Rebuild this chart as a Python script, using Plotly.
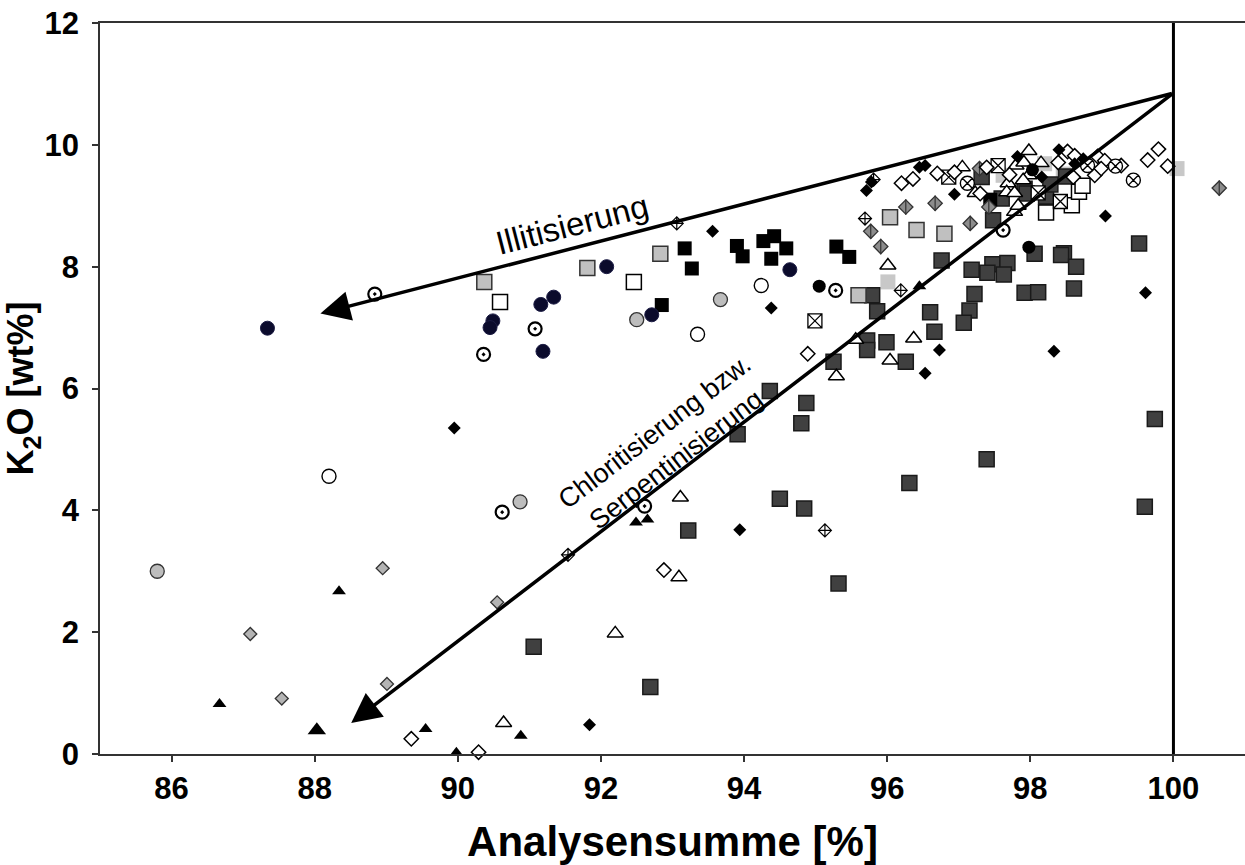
import plotly.graph_objects as go

# ---------------- data ----------------
navy_circle_x = [87.34, 91.34, 91.16, 90.49, 90.45, 91.19, 92.71, 92.08, 94.64]
navy_circle_y = [6.99, 7.50, 7.38, 7.11, 7.00, 6.61, 7.21, 8.00, 7.95]

black_circle_x = [95.05, 97.98, 98.03]
black_circle_y = [7.68, 8.32, 9.59]

grey_circle_x = [85.80, 90.87, 92.50, 93.67]
grey_circle_y = [3.00, 4.14, 7.13, 7.46]

open_circle_x = [88.20, 94.24, 93.35]
open_circle_y = [4.56, 7.69, 6.89]

dot_circle_x = [88.84, 91.08, 90.36, 90.62, 92.61, 95.28, 97.62]
dot_circle_y = [7.55, 6.98, 6.56, 3.97, 4.07, 7.61, 8.60]

x_circle_x = [97.12, 99.44, 99.19, 98.80]
x_circle_y = [9.37, 9.42, 9.65, 9.66]

black_diamond_x = [89.95, 94.38, 93.94, 91.84, 93.56, 99.61, 96.73, 98.33, 96.53, 99.05,
                   96.94, 95.71, 95.78, 96.45, 96.53, 97.82, 98.40, 98.62, 98.74, 98.16]
black_diamond_y = [5.35, 7.32, 3.68, 0.48, 8.58, 7.57, 6.63, 6.61, 6.25, 8.83,
                   9.19, 9.25, 9.39, 9.63, 9.66, 9.81, 9.92, 9.69, 9.77, 9.47]

grey_diamond_x = [88.95, 87.10, 87.54, 89.01, 90.55]
grey_diamond_y = [3.05, 1.97, 0.91, 1.15, 2.49]

split_diamond_x = [100.64, 96.26, 96.67, 95.77, 95.91, 97.16, 97.42, 97.29]
split_diamond_y = [9.29, 8.98, 9.04, 8.58, 8.33, 8.71, 8.98, 9.61]

cross_diamond_x = [95.69, 95.81, 96.19, 93.06, 91.54, 95.13]
cross_diamond_y = [8.79, 9.43, 7.61, 8.71, 3.27, 3.67]

open_diamond_x = [89.35, 90.29, 92.88, 94.89, 99.79, 99.64, 99.92, 96.20, 96.36, 96.70, 96.94, 97.39,
                  97.71, 98.39, 98.52, 98.62, 98.94, 99.04, 98.90, 98.99, 99.27, 97.30, 98.60]
open_diamond_y = [0.25, 0.03, 3.02, 6.57, 9.93, 9.75, 9.65, 9.37, 9.44, 9.53, 9.55, 9.63,
                  9.51, 9.71, 9.89, 9.82, 9.81, 9.74, 9.50, 9.61, 9.66, 9.20, 9.47]

black_square_x = [93.17, 93.27, 93.90, 93.98, 94.27, 94.42, 94.59, 94.38, 92.85, 95.29, 95.47, 97.44]
black_square_y = [8.30, 7.97, 8.34, 8.17, 8.42, 8.50, 8.30, 8.13, 7.37, 8.33, 8.16, 9.10]

dark_square_x = [91.06, 92.69, 93.22, 94.36, 93.91, 94.87, 94.80, 94.50, 94.84, 95.32, 96.31, 97.39,
                 99.74, 99.60, 95.79, 95.86, 96.60, 96.66, 97.15, 97.07, 97.22, 97.92, 98.11, 98.61,
                 95.72, 95.72, 95.99, 96.26, 95.25, 96.76, 97.18, 97.47, 97.40, 97.68, 97.63, 98.06,
                 98.47, 98.43, 98.64, 99.52, 97.48, 97.32, 97.92, 97.95, 97.60, 98.22, 98.28, 98.50]
dark_square_y = [1.76, 1.10, 3.67, 5.96, 5.25, 5.76, 5.43, 4.19, 4.03, 2.80, 4.45, 4.84,
                 5.50, 4.06, 7.53, 7.27, 7.25, 6.93, 7.28, 7.08, 7.55, 7.57, 7.58, 7.64,
                 6.79, 6.63, 6.76, 6.44, 6.44, 8.10, 7.95, 8.04, 7.90, 8.06, 7.87, 8.21,
                 8.22, 8.19, 8.00, 8.38, 8.76, 9.47, 9.28, 9.20, 9.12, 9.15, 9.35, 9.48]

light_square_x = [90.37, 91.81, 92.83, 96.04, 96.41, 96.80, 95.60]
light_square_y = [7.75, 7.98, 8.21, 8.81, 8.60, 8.54, 7.53]

pale_square_x = [96.01, 100.05, 97.62, 98.20, 98.46]
pale_square_y = [7.75, 9.61, 9.50, 9.69, 9.52]

open_square_x = [92.46, 90.59, 98.22, 98.58, 98.68, 98.73]
open_square_y = [7.75, 7.42, 8.89, 9.01, 9.23, 9.33]

x_square_x = [94.99, 96.86, 97.55, 98.42, 98.11]
x_square_y = [7.11, 9.47, 9.66, 9.07, 9.21]

black_triangle_x = [86.67, 88.34, 89.55, 89.98, 90.88, 92.49, 92.65, 96.45]
black_triangle_y = [0.82, 2.67, 0.41, 0.02, 0.30, 3.80, 3.85, 7.68]

big_triangle_x = [88.03]
big_triangle_y = [0.39]

open_triangle_x = [90.64, 92.20, 93.09, 93.11, 95.56, 96.37, 96.04, 95.29, 96.01, 97.78, 97.05,
                   97.98, 98.15, 97.80, 97.91, 97.69, 97.67, 97.78, 97.23, 97.98, 97.83, 97.90]
open_triangle_y = [0.51, 1.98, 2.90, 4.21, 6.80, 6.82, 6.46, 6.20, 8.02, 8.90, 9.63,
                   9.90, 9.70, 9.66, 9.71, 9.37, 9.22, 9.21, 9.21, 9.50, 9.00, 9.42]

# trend arrows: common apex and arrow tips
apex = (100.0, 10.85)
illite_tip = (88.08, 7.23)
chlorite_tip = (88.51, 0.51)
reference_sum = 100

x_ticks = [86, 88, 90, 92, 94, 96, 98, 100]
y_ticks = [0, 2, 4, 6, 8, 10, 12]

FONT = "Arial, Liberation Sans, sans-serif"

fig = go.Figure()


def add(x, y, symbol, size, color, line_color=None, line_width=0.0, name=""):
    fig.add_trace(go.Scatter(
        x=x, y=y, mode="markers", name=name, cliponaxis=False,
        marker=dict(symbol=symbol, size=size, color=color,
                    line=dict(color=line_color or color, width=line_width)),
    ))


# draw order: paler / background marks first
add(pale_square_x, pale_square_y, "square", 15, "#c8c8c8", name="pale squares")
add(dark_square_x, dark_square_y, "square", 15, "#404040", "#1a1a1a", 1.5, "dark squares")
add(light_square_x, light_square_y, "square", 15, "#c0c0c0", "#333333", 1.5, "light squares")
add(open_square_x, open_square_y, "square", 15, "white", "black", 1.5, "open squares")
add(x_square_x, x_square_y, "square-x", 14, "white", "black", 1.3, "crossed squares")
add(black_square_x, black_square_y, "square", 14, "black", name="black squares")
add(open_triangle_x, open_triangle_y, "triangle-up", 14, "white", "black", 1.5, "open triangles")
add(black_triangle_x, black_triangle_y, "triangle-up", 12, "black", name="black triangles")
add(big_triangle_x, big_triangle_y, "triangle-up", 16, "black", name="black triangle (large)")
add(grey_diamond_x, grey_diamond_y, "diamond", 10, "#b4b4b4", "#333333", 1.3, "grey diamonds")
add(split_diamond_x, split_diamond_y, "diamond", 11, "#8c8c8c", "#333333", 1.3, "split diamonds")
add(split_diamond_x, split_diamond_y, "line-ns", 11, "#333333", "#333333", 1.2, "split diamonds")
add(open_diamond_x, open_diamond_y, "diamond", 11, "white", "black", 1.5, "open diamonds")
add(cross_diamond_x, cross_diamond_y, "diamond-cross", 10, "white", "black", 1.2, "crossed diamonds")
add(black_diamond_x, black_diamond_y, "diamond", 10, "black", name="black diamonds")
add(grey_circle_x, grey_circle_y, "circle", 14, "#bdbdbd", "#333333", 1.3, "grey circles")
add(open_circle_x, open_circle_y, "circle", 14, "white", "black", 1.4, "open circles")
add(dot_circle_x, dot_circle_y, "circle-dot", 13, "white", "black", 2.2, "dotted circles")
add(x_circle_x, x_circle_y, "circle-x", 14, "white", "black", 1.4, "crossed circles")
add(black_circle_x, black_circle_y, "circle", 13, "black", name="black circles")
add(navy_circle_x, navy_circle_y, "circle", 14, "#0b0b2c", "#1c1c44", 1.0, "navy circles")

# vertical reference line at 100 %
fig.add_shape(type="line", xref="x", yref="y", x0=reference_sum, x1=reference_sum,
              y0=y_ticks[0], y1=y_ticks[-1], line=dict(color="black", width=3))

# trend arrows (line from the apex with an arrowhead at the tip)
for tip in (illite_tip, chlorite_tip):
    fig.add_annotation(x=tip[0], y=tip[1], ax=apex[0], ay=apex[1], xref="x", yref="y",
                       axref="x", ayref="y", text="", showarrow=True, arrowhead=2,
                       arrowsize=1.7, arrowwidth=3.5, arrowcolor="black", standoff=0,
                       startstandoff=0)

fig.add_annotation(x=91.59, y=8.70, xref="x", yref="y", text="Illitisierung", showarrow=False,
                   textangle=-14.5, font=dict(family=FONT, size=33, color="black"))
fig.add_annotation(x=92.90, y=5.07, xref="x", yref="y",
                   text="Chloritisierung bzw.<br>Serpentinisierung", showarrow=False,
                   textangle=-37.5, align="center", font=dict(family=FONT, size=27, color="black"))

fig.update_layout(
    width=1245, height=865,
    margin=dict(l=100, r=0, t=23, b=111),
    paper_bgcolor="white", plot_bgcolor="white",
    showlegend=False,
    font=dict(family=FONT, color="black"),
    xaxis=dict(
        range=[85, 101], tickvals=x_ticks, ticks="outside", ticklen=6, tickwidth=1.5,
        tickcolor="#333333", showline=True, linecolor="#333333", linewidth=1.5, mirror=True,
        showgrid=False, zeroline=False, automargin=False, ticklabeloverflow="allow",
        tickfont=dict(family=FONT, size=31, color="black", weight="bold"),
        title=dict(text="Analysensumme [%]", standoff=24,
                   font=dict(family=FONT, size=42, color="black", weight="bold")),
    ),
    yaxis=dict(
        range=[0, 12], tickvals=y_ticks, ticks="outside", ticklen=6, tickwidth=1.5,
        tickcolor="#333333", showline=True, linecolor="#333333", linewidth=1.5, mirror=False,
        showgrid=False, zeroline=False, automargin=False, ticklabeloverflow="allow",
        ticklabelstandoff=7,
        tickfont=dict(family=FONT, size=31, color="black", weight="bold"),
        title=dict(text="K<sub>2</sub>O [wt%]", standoff=0,
                   font=dict(family=FONT, size=36, color="black", weight="bold")),
    ),
)

# remove the browser's default 8 px page margin so the figure fills the window exactly
fig.write_html("out.html", config={"displayModeBar": False},
               post_script="document.body.style.margin='0px';")
